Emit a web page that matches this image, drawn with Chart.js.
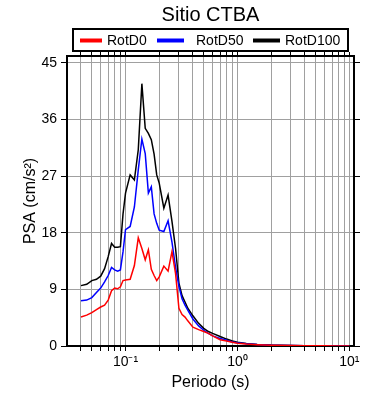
<!DOCTYPE html>
<html>
<head>
<meta charset="utf-8">
<script src="https://cdn.jsdelivr.net/npm/chart.js@4.4.1/dist/chart.umd.min.js"></script>
<style>
  html, body { margin: 0; padding: 0; background: #fff; }
  #wrap { width: 390px; height: 400px; }
</style>
</head>
<body>
<div id="wrap"><canvas id="myChart" width="390" height="400"></canvas></div>
<script>
const TITLE = 'Sitio CTBA';
const SERIES_NAMES = ['RotD0', 'RotD50', 'RotD100'];

// periodos (s)
const periods = [0.04, 0.045, 0.05, 0.055, 0.06, 0.065, 0.07, 0.075, 0.08, 0.085, 0.09, 0.095,
  0.1, 0.11, 0.12, 0.13, 0.14, 0.15, 0.16, 0.17, 0.18, 0.19, 0.2, 0.22, 0.24, 0.26, 0.28,
  0.3, 0.32, 0.34, 0.36, 0.4, 0.45, 0.5, 0.55, 0.6, 0.7, 0.8, 0.9, 1.0, 1.2, 1.5, 2, 3, 4, 5, 6, 7.5, 10];

const rotD0 = [4.6, 4.9, 5.3, 5.8, 6.2, 6.5, 7.3, 8.8, 9.2, 9.1, 9.4, 10.4,
  10.5, 10.6, 12.8, 17.2, 15.5, 13.7, 15.3, 12.2, 11.2, 10.4, 11.0, 12.7, 11.9, 15.0, 11.5,
  6.0, 5.0, 4.6, 4.0, 3.0, 2.6, 2.3, 2.0, 1.6, 1.0, 0.8, 0.6, 0.45, 0.3, 0.2, 0.12, 0.06, 0.04, 0.025, 0.02, 0.01, 0.007];

const rotD50 = [7.2, 7.3, 7.7, 8.5, 9.2, 10.2, 11.2, 12.5, 12.1, 11.9, 12.1, 15.0,
  18.5, 19.0, 22.1, 28.0, 32.9, 30.6, 24.3, 25.3, 21.0, 19.5, 18.4, 18.2, 19.9, 16.5, 12.5,
  9.5, 7.5, 6.5, 5.7, 4.3, 3.2, 2.5, 2.0, 1.6, 1.2, 0.9, 0.65, 0.5, 0.35, 0.22, 0.13, 0.07, 0.04, 0.03, 0.02, 0.012, 0.008];

const rotD100 = [9.6, 9.8, 10.4, 10.6, 11.1, 12.3, 14.2, 16.3, 15.7, 15.7, 15.8, 21.0,
  24.3, 27.2, 26.4, 31.2, 41.7, 34.6, 33.8, 32.8, 30.5, 27.2, 25.9, 21.9, 24.0, 19.8, 15.5,
  10.0, 8.0, 7.0, 6.0, 4.8, 3.6, 2.8, 2.3, 2.0, 1.5, 1.1, 0.8, 0.6, 0.4, 0.25, 0.15, 0.08, 0.05, 0.03, 0.02, 0.015, 0.01];

const yTicks = [0, 9, 18, 27, 36, 45];
const xTickLabels = { '0.1': '10\u207B\u00B9', '1': '10\u2070', '10': '10\u00B9' };

// marcas log: 1..9 x 10^k entre 0.04 y 10
const xTicks = [];
for (let e = -2; e <= 1; e++) {
  for (let m = 1; m <= 9; m++) {
    const v = +(m * Math.pow(10, e)).toPrecision(3);
    if (v >= 0.04 && v <= 10) xTicks.push(v);
  }
}

const FONT = 'Liberation Sans, Arial, Helvetica, sans-serif';
const COLORS = ['#ff0000', '#0000ff', '#000000'];

function toPoints(arr) {
  return arr.map((v, i) => ({ x: periods[i], y: v }));
}

// titulo y leyenda con recuadro, estilo GMT
const titleLegend = {
  id: 'titleLegend',
  afterDraw(chart) {
    const c = chart.ctx;
    c.save();
    c.fillStyle = '#000';
    c.font = '20px ' + FONT;
    c.textAlign = 'center';
    c.textBaseline = 'middle';
    c.fillText(TITLE, 210.5, 15);

    c.lineWidth = 2;
    c.strokeStyle = '#000';
    c.strokeRect(73, 29, 275, 22);

    const items = [
      { x0: 80, x1: 102, tx: 107 },
      { x0: 157, x1: 184, tx: 196 },
      { x0: 253, x1: 280, tx: 285 }
    ];
    c.font = '14px ' + FONT;
    c.textAlign = 'left';
    chart.data.datasets.forEach((ds, i) => {
      const it = items[i];
      c.strokeStyle = ds.borderColor;
      c.lineWidth = 4;
      c.beginPath();
      c.moveTo(it.x0, 40.5);
      c.lineTo(it.x1, 40.5);
      c.stroke();
      c.fillStyle = '#000';
      c.fillText(ds.label, it.tx, 41);
    });
    c.restore();
  }
};

const ctx = document.getElementById('myChart').getContext('2d');

new Chart(ctx, {
  type: 'line',
  data: {
    datasets: [rotD0, rotD50, rotD100].map((arr, i) => ({
      label: SERIES_NAMES[i],
      data: toPoints(arr),
      borderColor: COLORS[i],
      backgroundColor: COLORS[i],
      borderWidth: 1.5,
      pointRadius: 0,
      tension: 0,
      fill: false
    }))
  },
  options: {
    responsive: false,
    animation: false,
    layout: { padding: 0 },
    plugins: {
      legend: { display: false },
      title: { display: false },
      tooltip: { enabled: false }
    },
    scales: {
      x: {
        type: 'logarithmic',
        position: 'bottom',
        min: 0.03,
        max: 11,
        afterBuildTicks: s => { s.ticks = xTicks.map(v => ({ value: v })); },
        afterFit: s => { s.height = 54; },
        ticks: {
          autoSkip: false,
          maxRotation: 0,
          padding: 3,
          color: '#000',
          font: { family: FONT, size: 14 },
          callback: v => xTickLabels[String(+v.toPrecision(3))] || ''
        },
        grid: { color: '#a0a0a0', lineWidth: 1, tickLength: 5, tickColor: '#000' },
        border: { color: '#000', width: 2 },
        title: {
          display: true,
          text: 'Periodo (s)',
          color: '#000',
          font: { family: FONT, size: 16 },
          padding: { top: 0, bottom: 8 }
        }
      },
      x2: {
        type: 'logarithmic',
        position: 'top',
        min: 0.03,
        max: 11,
        afterBuildTicks: s => { s.ticks = xTicks.map(v => ({ value: v })); },
        afterFit: s => { s.height = 56; },
        ticks: { display: false },
        grid: { drawOnChartArea: false, tickLength: 4, tickColor: '#000' },
        border: { color: '#000', width: 2 }
      },
      y: {
        min: 0,
        max: 46.1,
        afterBuildTicks: s => { s.ticks = yTicks.map(v => ({ value: v })); },
        afterFit: s => { s.width = 67; },
        ticks: {
          padding: 4,
          color: '#000',
          font: { family: FONT, size: 14 }
        },
        grid: { color: '#a0a0a0', lineWidth: 1, tickLength: 6, tickColor: '#000' },
        border: { color: '#000', width: 2 },
        title: {
          display: true,
          text: 'PSA (cm/s\u00B2)',
          color: '#000',
          font: { family: FONT, size: 16 },
          padding: { top: 21, bottom: 0 }
        }
      },
      y2: {
        position: 'right',
        min: 0,
        max: 46.1,
        afterBuildTicks: s => { s.ticks = yTicks.map(v => ({ value: v })); },
        afterFit: s => { s.width = 36; },
        ticks: { display: false },
        grid: { drawOnChartArea: false, tickLength: 6, tickColor: '#000' },
        border: { color: '#000', width: 2 }
      }
    }
  },
  plugins: [titleLegend]
});
</script>
</body>
</html>
